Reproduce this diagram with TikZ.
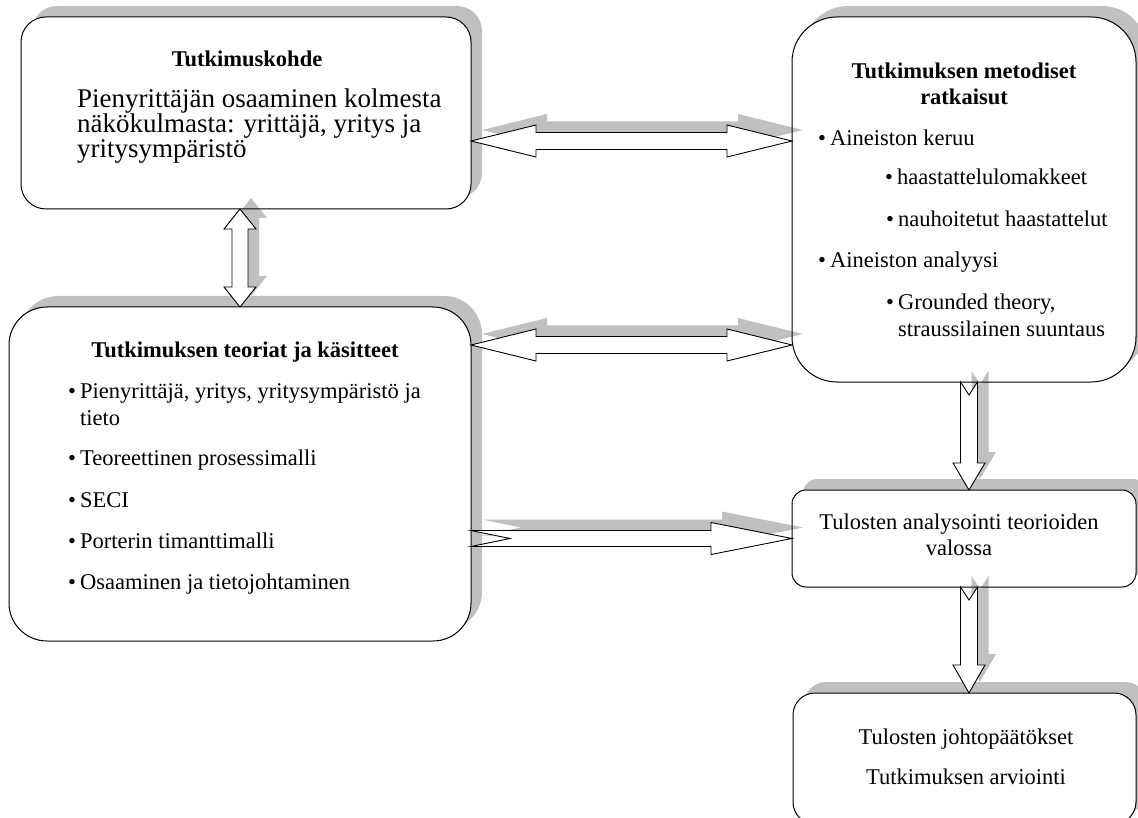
\documentclass[tikz,border=0pt]{standalone}
\usepackage{fontspec}
\setmainfont{Liberation Serif}
\usetikzlibrary{calc}
\definecolor{shadowgray}{RGB}{192,192,192}
\tikzset{
  frame/.style={rectangle, inner sep=0pt, outer sep=0pt},
  body/.style={inner sep=0pt, anchor=base west, font=\fontsize{22.5pt}{27pt}\selectfont},
  bigbody/.style={inner sep=0pt, anchor=base west, font=\fontsize{27pt}{25pt}\selectfont},
  heading/.style={inner sep=0pt, anchor=base, font=\fontsize{22.5pt}{27pt}\selectfont\bfseries},
  centred/.style={inner sep=0pt, anchor=base, font=\fontsize{22.5pt}{27pt}\selectfont},
  dropshade/.style={fill=shadowgray, transform canvas={xshift=11pt, yshift=11pt}},
  boxfill/.style={fill=white},
  boxline/.style={draw=black, line width=1pt},
  arrowbody/.style={fill=white, draw=black, line width=0.9pt, line join=miter},
}
\newcommand\bul{\makebox[12pt][l]{\textbullet}}
% one layer of a rounded box: node, corner radius, style
\newcommand\boxlayer[3]{\path[#3, rounded corners=#2] (#1.south west) rectangle (#1.north east);}
% horizontal double block arrow: left tip, right tip, head length, style
\newcommand\dblH[4]{\path[#4] (#1) -- ($(#1)+(#3,-16)$) -- ($(#1)+(#3,-8.5)$) -- ($(#2)+(-#3,-8.5)$) -- ($(#2)+(-#3,-16)$) -- (#2) -- ($(#2)+(-#3,16)$) -- ($(#2)+(-#3,8.5)$) -- ($(#1)+(#3,8.5)$) -- ($(#1)+(#3,16)$) -- cycle;}
% vertical double block arrow: top tip, bottom tip, head length, style
\newcommand\dblV[4]{\path[#4] (#1) -- ($(#1)+(16,#3)$) -- ($(#1)+(8,#3)$) -- ($(#2)+(8,-#3)$) -- ($(#2)+(16,-#3)$) -- (#2) -- ($(#2)+(-16,-#3)$) -- ($(#2)+(-8,-#3)$) -- ($(#1)+(-8,#3)$) -- ($(#1)+(-16,#3)$) -- cycle;}
% notched block arrow to the right: tail, tip, head length, notch depth, style
\newcommand\notchR[5]{\path[#5] ($(#1)+(0,-8)$) -- ($(#2)+(-#3,-8)$) -- ($(#2)+(-#3,-16)$) -- (#2) -- ($(#2)+(-#3,16)$) -- ($(#2)+(-#3,8)$) -- ($(#1)+(0,8)$) -- ($(#1)+(#4,0)$) -- cycle;}
% notched block arrow downwards: tail, tip, head length, notch depth, style
\newcommand\notchD[5]{\path[#5] ($(#1)+(-8.5,0)$) -- ($(#2)+(-8.5,-#3)$) -- ($(#2)+(-16,-#3)$) -- (#2) -- ($(#2)+(16,-#3)$) -- ($(#2)+(8.5,-#3)$) -- ($(#1)+(8.5,0)$) -- ($(#1)+(0,#4)$) -- cycle;}

\begin{document}
\begin{tikzpicture}[x=1pt, y=-1pt]
\useasboundingbox (0,0) rectangle (1138,818);
\clip (0,0) rectangle (1138,818);

% box frames
\node[frame, minimum width=450pt, minimum height=192pt] (A) at (246,113) {};
\node[frame, minimum width=344pt, minimum height=365pt] (B) at (964,199.5) {};
\node[frame, minimum width=462pt, minimum height=334pt] (C) at (240,474) {};
\node[frame, minimum width=344pt, minimum height=97pt] (D) at (964,538.5) {};
\node[frame, minimum width=343pt, minimum height=131pt] (E) at (964.5,758.5) {};

% arrow end points
\coordinate (abL) at ([yshift=-28pt]A.east);
\coordinate (abR) at (abL -| B.west);
\coordinate (cbL) at ([yshift=129pt]C.east);
\coordinate (cbR) at (cbL -| B.west);
\coordinate (acT) at ([xshift=-6pt]A.south);
\coordinate (acB) at (acT |- C.north);
\coordinate (cdL) at (D.west -| C.east);
\coordinate (cdR) at (D.west);
\coordinate (bdT) at ([xshift=5pt]B.south);
\coordinate (bdB) at (bdT |- D.north);
\coordinate (deT) at ([xshift=5pt]D.south);
\coordinate (deB) at (deT |- E.north);

% box shadows
\boxlayer{A}{25pt}{dropshade}
\boxlayer{B}{45pt}{dropshade}
\boxlayer{C}{38pt}{dropshade}
\boxlayer{D}{14pt}{dropshade}
\boxlayer{E}{22pt}{dropshade}

% box fills
\boxlayer{A}{25pt}{boxfill}
\boxlayer{B}{45pt}{boxfill}
\boxlayer{C}{38pt}{boxfill}
\boxlayer{D}{14pt}{boxfill}
\boxlayer{E}{22pt}{boxfill}

% arrow shadows
\dblH{abL}{abR}{65}{dropshade}
\dblH{cbL}{cbR}{65}{dropshade}
\dblV{acT}{acB}{20}{dropshade}
\notchR{cdL}{cdR}{81}{39}{dropshade}
\notchD{bdT}{bdB}{27}{13}{dropshade}
\notchD{deT}{deB}{28}{13}{dropshade}

% box outlines
\boxlayer{A}{25pt}{boxline}
\boxlayer{B}{45pt}{boxline}
\boxlayer{C}{38pt}{boxline}
\boxlayer{D}{14pt}{boxline}
\boxlayer{E}{22pt}{boxline}

% block arrows
\dblH{abL}{abR}{65}{arrowbody}
\dblH{cbL}{cbR}{65}{arrowbody}
\dblV{acT}{acB}{20}{arrowbody}
\notchR{cdL}{cdR}{81}{39}{arrowbody}
\notchD{bdT}{bdB}{27}{13}{arrowbody}
\notchD{deT}{deB}{28}{13}{arrowbody}

% research subject
\node[heading] (tA) at (247,67) {Tutkimuskohde};
\node[bigbody] (tA1) at (77,108) {Pienyrittäjän osaaminen kolmesta};
\node[bigbody] (tA2) at (77,133) {näkökulmasta: yrittäjä, yritys ja};
\node[bigbody] (tA3) at (77,158) {yritysympäristö};

% methods
\node[heading] (tB1) at (964,79) {Tutkimuksen metodiset};
\node[heading] (tB2) at (964,105) {ratkaisut};
\node[body] (tB3) at (818,146) {\bul Aineiston keruu};
\node[body] (tB4) at (885,185) {\bul haastattelulomakkeet};
\node[body] (tB5) at (886,227) {\bul nauhoitetut haastattelut};
\node[body] (tB6) at (818,268) {\bul Aineiston analyysi};
\node[body] (tB7) at (886,310) {\bul Grounded theory,};
\node[body] (tB8) at (898,337) {straussilainen suuntaus};

% theories and concepts
\node[heading] (tC) at (245,358) {Tutkimuksen teoriat ja käsitteet};
\node[body] (tC1) at (68,398) {\bul Pienyrittäjä, yritys, yritysympäristö ja};
\node[body] (tC2) at (80,425) {tieto};
\node[body] (tC3) at (68,465) {\bul Teoreettinen prosessimalli};
\node[body] (tC4) at (68,507) {\bul SECI};
\node[body] (tC5) at (68,548) {\bul Porterin timanttimalli};
\node[body] (tC6) at (68,589) {\bul Osaaminen ja tietojohtaminen};

% analysis of results
\node[centred] (tD1) at (959,529) {Tulosten analysointi teorioiden};
\node[centred] (tD2) at (959,555) {valossa};

% conclusions
\node[centred] (tE1) at (966,744) {Tulosten johtopäätökset};
\node[centred] (tE2) at (966,784) {Tutkimuksen arviointi};
\end{tikzpicture}
\end{document}
